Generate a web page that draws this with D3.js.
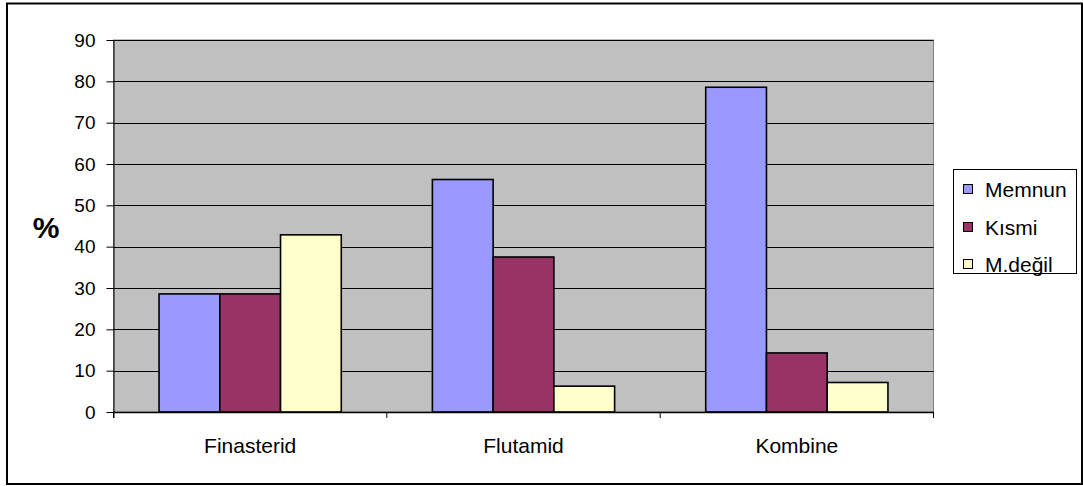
<!DOCTYPE html>
<html>
<head>
<meta charset="utf-8">
<script src="https://cdn.jsdelivr.net/npm/d3@7/dist/d3.min.js"></script>
<style>
  html, body { margin: 0; padding: 0; background: #fff; }
  svg { display: block; font-family: "Liberation Sans", Arial, sans-serif; }
</style>
</head>
<body>
<svg id="chart" width="1083" height="486"></svg>
<script>
// Treatment groups along the x axis
const categories = ["Finasterid", "Flutamid", "Kombine"];
// Satisfaction series (percent of patients)
const seriesNames = ["Memnun", "Kısmi", "M.değil"];
const memnun = [28.57, 56.25, 78.57];
const kismi  = [28.57, 37.5, 14.29];
const mDegil = [42.86, 6.25, 7.14];
const yTicks = [0, 10, 20, 30, 40, 50, 60, 70, 80, 90];
const colors = ["#9999FF", "#993366", "#FFFFCC"];

const seriesValues = [memnun, kismi, mDegil];

const svg = d3.select("#chart");

// Outer chart frame
svg.append("rect")
  .attr("x", 7).attr("y", 3.5)
  .attr("width", 1075).attr("height", 480.5)
  .attr("fill", "#fff").attr("stroke", "#000").attr("stroke-width", 2);

const plot = { left: 113.5, top: 40, right: 933.5, bottom: 412 };

const x = d3.scaleBand()
  .domain(categories)
  .range([plot.left, plot.right])
  .paddingInner(0).paddingOuter(0);

const xInner = d3.scaleBand()
  .domain(seriesNames)
  .range([0, x.bandwidth()])
  .paddingOuter(0.75)   // 150% gap width split on both sides
  .paddingInner(0);

const y = d3.scaleLinear().domain([0, 90]).range([plot.bottom, plot.top]);

// Plot area background
svg.append("rect")
  .attr("x", plot.left).attr("y", plot.top)
  .attr("width", plot.right - plot.left).attr("height", plot.bottom - plot.top)
  .attr("fill", "#C0C0C0").attr("stroke", "#808080").attr("stroke-width", 1);

// Horizontal gridlines
svg.append("g")
  .selectAll("line")
  .data(yTicks.filter(d => d > 0))
  .join("line")
  .attr("x1", plot.left).attr("x2", plot.right)
  .attr("y1", d => Math.round(y(d)) + 0.5).attr("y2", d => Math.round(y(d)) + 0.5)
  .attr("stroke", "#000").attr("stroke-width", 1);

// Bars
const groups = svg.append("g")
  .selectAll("g")
  .data(categories)
  .join("g")
  .attr("transform", d => `translate(${x(d)},0)`);

groups.selectAll("rect")
  .data((c, i) => seriesNames.map((s, j) => ({ s, j, v: seriesValues[j][i] })))
  .join("rect")
  .attr("x", d => xInner(d.s))
  .attr("width", xInner.bandwidth())
  .attr("y", d => y(d.v))
  .attr("height", d => y(0) - y(d.v))
  .attr("fill", d => colors[d.j])
  .attr("stroke", "#000").attr("stroke-width", 1.6);

// Y axis
const yAxis = d3.axisLeft(y).tickValues(yTicks).tickSize(7).tickPadding(11);
const gy = svg.append("g")
  .attr("transform", `translate(${plot.left},0)`)
  .call(yAxis);
gy.select(".domain").attr("stroke", "#000").attr("d", `M0.5,${plot.top}V${plot.bottom + 6}`);
gy.selectAll(".tick line").attr("stroke", "#000");
gy.selectAll(".tick text").attr("font-size", 19).attr("fill", "#000")
  .attr("font-family", "Liberation Sans, Arial, sans-serif");

// X axis
const gx = svg.append("g")
  .attr("transform", `translate(0,${plot.bottom})`);
gx.append("line")
  .attr("x1", plot.left).attr("x2", plot.right)
  .attr("y1", 0.5).attr("y2", 0.5)
  .attr("stroke", "#000").attr("stroke-width", 1.5);
const boundaries = [plot.left, ...categories.map(c => x(c) + x.bandwidth())];
gx.selectAll("line.tk")
  .data(boundaries)
  .join("line")
  .attr("class", "tk")
  .attr("x1", d => d).attr("x2", d => d)
  .attr("y1", 0).attr("y2", 6)
  .attr("stroke", "#000");
gx.selectAll("text")
  .data(categories)
  .join("text")
  .attr("x", d => x(d) + x.bandwidth() / 2)
  .attr("y", 41)
  .attr("text-anchor", "middle")
  .attr("font-size", 21)
  .attr("fill", "#000")
  .text(d => d);

// Y axis title
svg.append("text")
  .attr("x", 46).attr("y", 238)
  .attr("text-anchor", "middle")
  .attr("font-size", 30).attr("font-weight", "bold")
  .text("%");

// Legend
const legend = svg.append("g");
legend.append("rect")
  .attr("x", 953.5).attr("y", 169.5)
  .attr("width", 123).attr("height", 104)
  .attr("fill", "#fff").attr("stroke", "#000").attr("stroke-width", 1);
const rowY = [189, 227, 264];
const items = legend.selectAll("g.item")
  .data(seriesNames)
  .join("g")
  .attr("class", "item")
  .attr("transform", (d, i) => `translate(963,${rowY[i]})`);
items.append("rect")
  .attr("x", 0.5).attr("y", -4.5)
  .attr("width", 9).attr("height", 9)
  .attr("fill", (d, i) => colors[i])
  .attr("stroke", "#000").attr("stroke-width", 1);
items.append("text")
  .attr("x", 22).attr("y", 7.5)
  .attr("font-size", 21)
  .attr("fill", "#000")
  .text(d => d);
</script>
</body>
</html>
